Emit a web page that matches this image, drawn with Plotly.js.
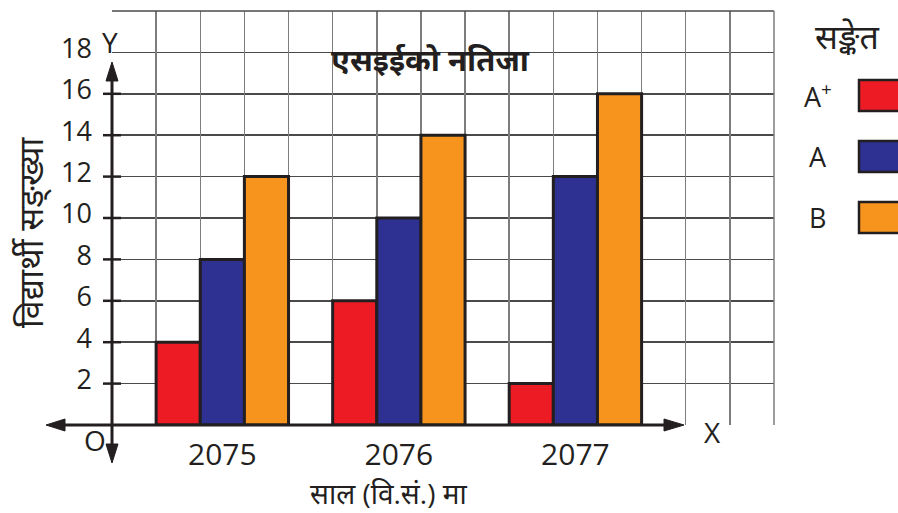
<!DOCTYPE html>
<html>
<head>
<meta charset="utf-8">
<script src="https://cdn.plot.ly/plotly-3.0.1.min.js"></script>
<style>html,body{margin:0;padding:0;background:#fff;}#chart{width:898px;height:513px;}</style>
</head>
<body>
<div id="chart"></div>
<script>
// ---- data ----
const years = ['2075', '2076', '2077'];
const seriesNames = ['A<sup>+</sup>', 'A', 'B'];
const seriesColors = ['#ED1C24', '#2E3192', '#F7941D'];
const aPlusValues = [4, 6, 2];
const aValues = [8, 10, 12];
const bValues = [12, 14, 16];
const yTickVals = [2, 4, 6, 8, 10, 12, 14, 16, 18];
const yTickText = ['2', '4', '6', '8', '10', '12', '14', '16', '18'];
const chartTitle = 'एसइईको नतिजा';
const xTitle = 'साल (वि.सं.) मा';
const yTitle = 'विद्यार्थी सङ्ख्या';
const legendTitle = 'सङ्केत';

// ---- layout helpers ----
const W = 898, H = 513;
const M = {l: 112, r: 124, t: 11, b: 88};
const PW = W - M.l - M.r, PH = H - M.t - M.b;
const px = x => (x - M.l) / PW;
const py = y => (H - M.b - y) / PH;
const INK = '#231F20';
const FONT = '"Open Sans", "Noto Sans", "Noto Sans Devanagari", "Lohit Devanagari", sans-serif';

const seriesValues = [aPlusValues, aValues, bValues];
const traces = seriesValues.map((vals, i) => ({
  type: 'bar', x: years, y: vals, name: seriesNames[i],
  marker: {color: seriesColors[i], line: {color: INK, width: 3}},
  showlegend: false, hoverinfo: 'x+y'
}));
// helper trace so the grid axis is drawn
traces.push({type: 'scatter', x: [], y: [], xaxis: 'x2', yaxis: 'y', showlegend: false, hoverinfo: 'skip'});

const shapes = [];
const line = (x0, y0, x1, y1, w) => shapes.push({type: 'line', xref: 'paper', yref: 'paper',
  x0: px(x0), y0: py(y0), x1: px(x1), y1: py(y1), line: {color: INK, width: w}, layer: 'above'});
const tri = pts => shapes.push({type: 'path', xref: 'paper', yref: 'paper', layer: 'above',
  path: 'M' + pts.map(p => px(p[0]) + ',' + py(p[1])).join(' L') + ' Z',
  fillcolor: INK, line: {color: INK, width: 1}});
// axes with arrows
line(112, 455, 112, 70, 3);
line(55, 425, 676, 425, 3);
tri([[112, 62], [106, 81], [118, 81]]);
tri([[112, 463], [106, 444], [118, 444]]);
tri([[46, 425], [65, 419], [65, 431]]);
tri([[684, 425], [664, 419], [664, 431]]);
// y tick marks
yTickVals.slice(0, -1).forEach(v => shapes.push({type: 'line', xref: 'paper', yref: 'y',
  x0: px(103), x1: px(121), y0: v, y1: v, line: {color: INK, width: 2.5}, layer: 'above'}));

const annotations = [];
const ann = (text, x, y, size, extra) => annotations.push(Object.assign({
  text: text, xref: 'paper', yref: 'paper', x: px(x), y: py(y), xanchor: 'center', yanchor: 'middle',
  showarrow: false, font: {family: FONT, size: size, color: INK}}, extra || {}));
ann('O', 95, 440, 28);
ann('Y', 110, 42, 28);
ann('X', 712, 432, 28);
ann(xTitle, 388, 493, 28);
ann(yTitle, 30, 232, 34, {textangle: -90});
ann(legendTitle, 847, 36, 34);
// custom legend: label left, swatch right
const legY = [95, 156, 217];
seriesNames.forEach((n, i) => {
  ann(n, 818, legY[i], 27);
  shapes.push({type: 'rect', xref: 'paper', yref: 'paper',
    x0: px(859), x1: px(900), y0: py(legY[i] - 15), y1: py(legY[i] + 16),
    fillcolor: seriesColors[i], line: {color: INK, width: 2.5}, layer: 'above'});
});

const layout = {
  width: W, height: H,
  margin: M,
  paper_bgcolor: '#fff', plot_bgcolor: '#fff',
  font: {family: FONT, color: INK},
  title: {text: chartTitle, x: 430 / W, xref: 'container', xanchor: 'center',
    y: 1 - 60 / H, yref: 'container', yanchor: 'middle',
    font: {family: FONT, size: 31, color: INK, weight: 'bold'}},
  barmode: 'group', bargap: 0.25, bargroupgap: 0,
  xaxis: {type: 'category', range: [-0.625, 3.125], showgrid: false, zeroline: false,
    showline: false, ticks: '', tickfont: {family: FONT, size: 30, color: INK},
    ticklabelstandoff: 9, fixedrange: true},
  xaxis2: {overlaying: 'x', range: [0, 15], dtick: 1, showgrid: true, gridcolor: '#7d7d7d',
    gridwidth: 1.5, showticklabels: false, ticks: '', zeroline: false, showline: false, fixedrange: true},
  yaxis: {range: [0, 20], tickvals: yTickVals, ticktext: yTickText, showgrid: true,
    gridcolor: '#4a4a4a', gridwidth: 1.5, zeroline: false, showline: false, ticks: '',
    tickfont: {family: FONT, size: 27, color: INK}, ticklabelstandoff: 19, ticklabelshift: -4,
    fixedrange: true},
  shapes: shapes,
  annotations: annotations
};
// top grid border
layout.shapes.push({type: 'line', xref: 'paper', yref: 'paper', x0: 0, x1: 1, y0: 1, y1: 1,
  line: {color: '#4a4a4a', width: 1.5}});
layout.shapes.push({type: 'line', xref: 'paper', yref: 'paper', x0: 1, x1: 1, y0: 0, y1: 1,
  line: {color: '#7d7d7d', width: 1.5}});

Plotly.newPlot('chart', traces, layout, {displayModeBar: false, staticPlot: true});
</script>
</body>
</html>
